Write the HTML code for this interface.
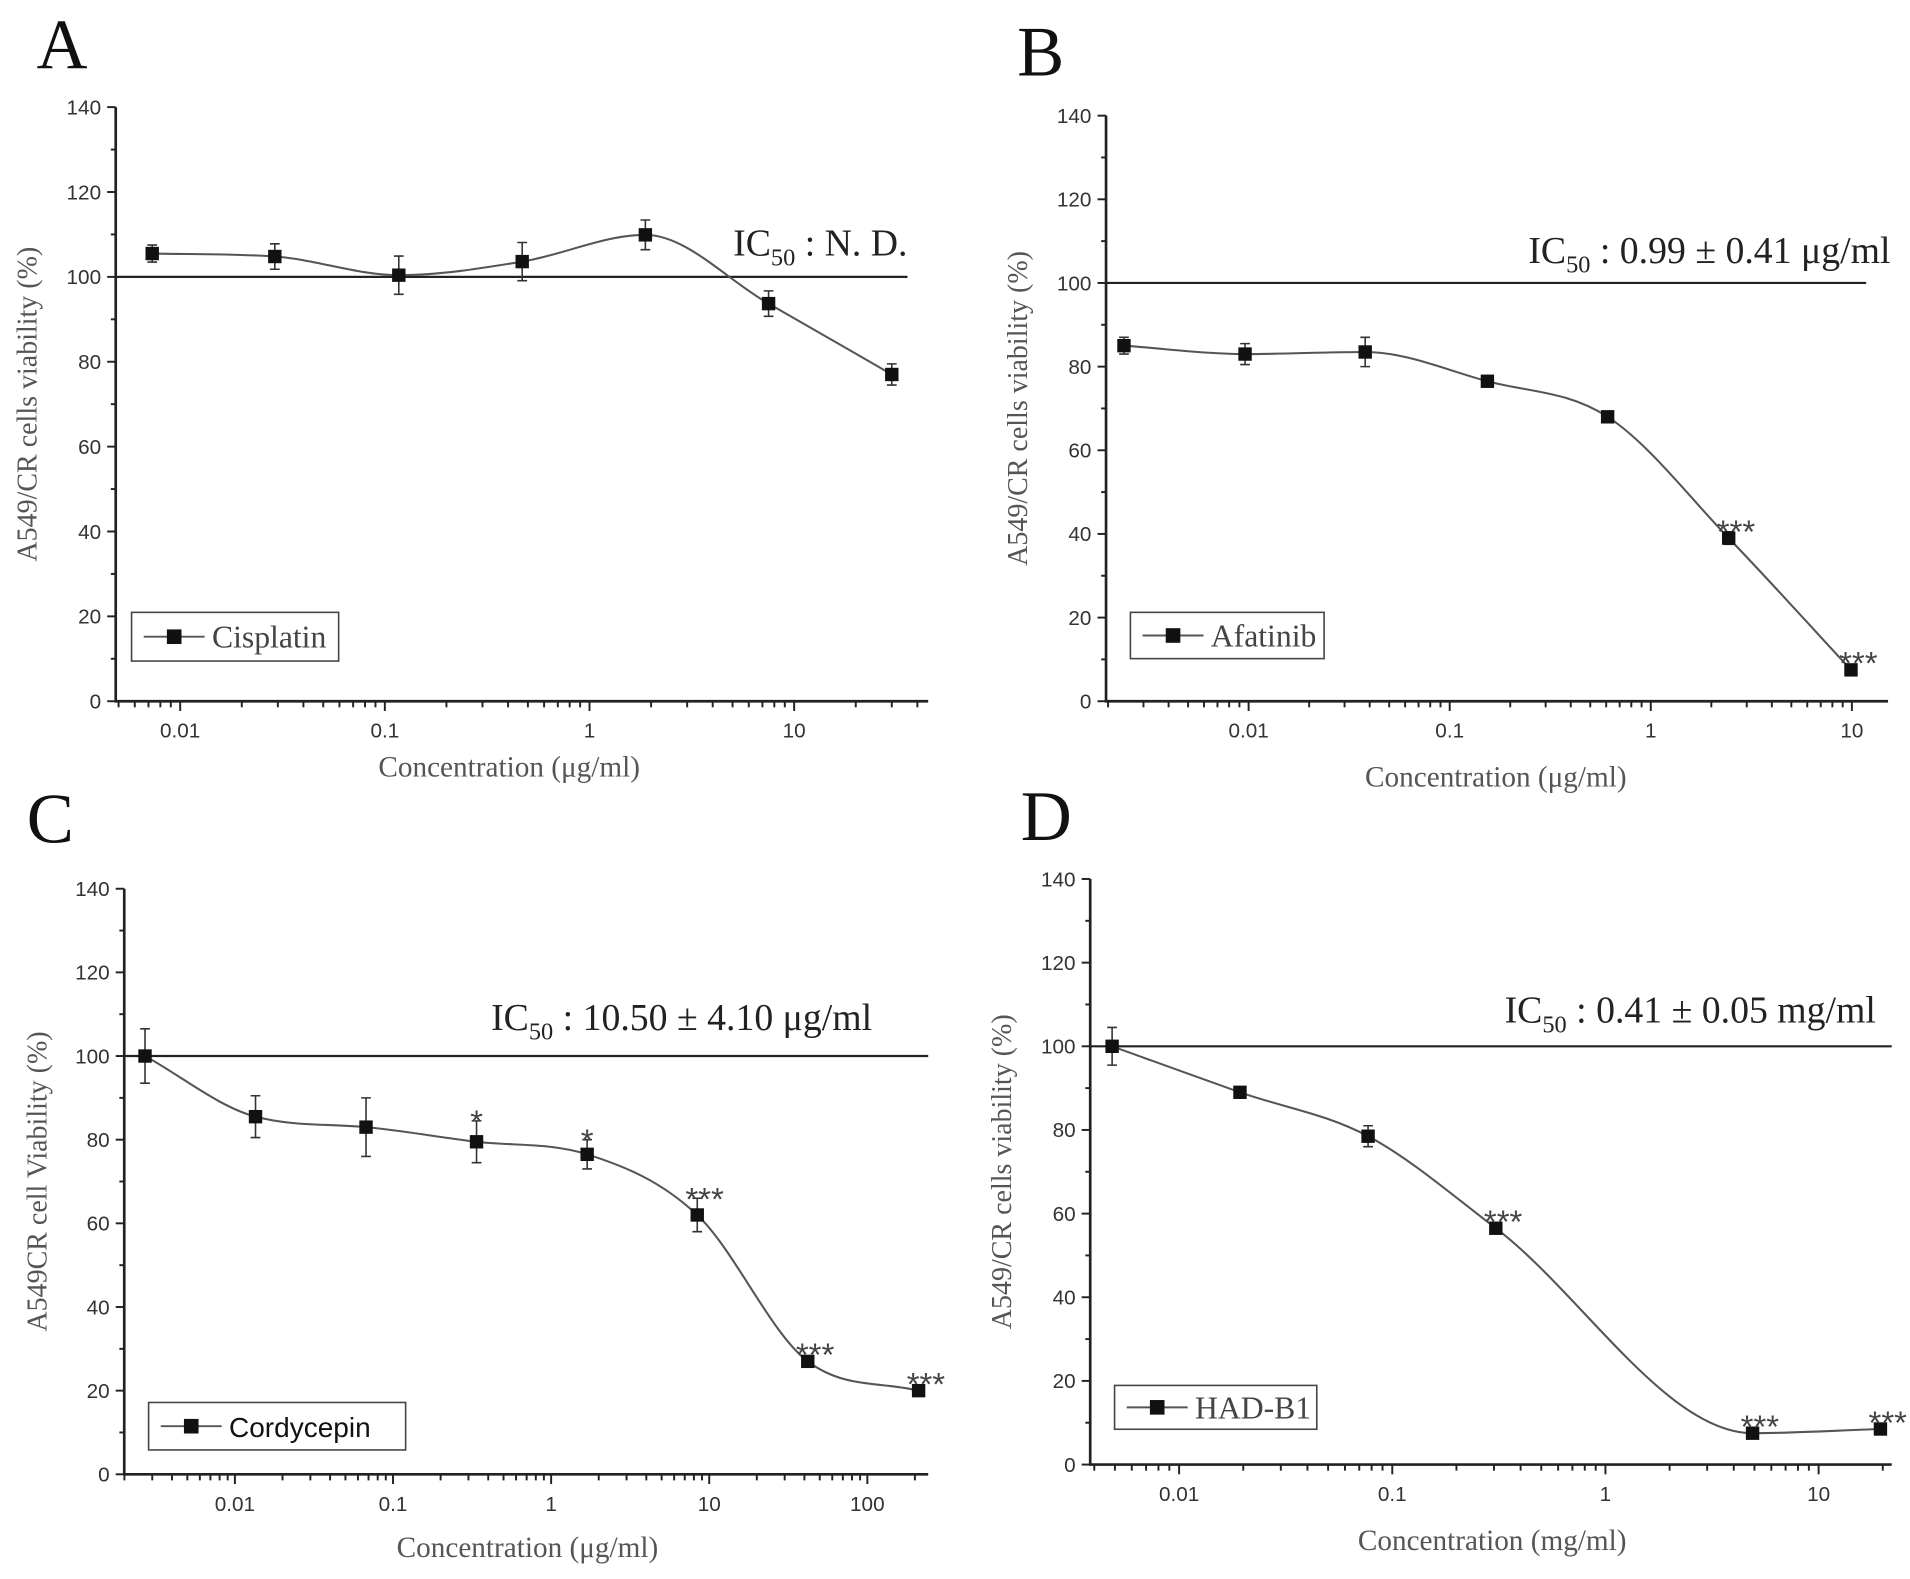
<!DOCTYPE html>
<html><head><meta charset="utf-8"><style>
html,body{margin:0;padding:0;background:#fff;}
svg{display:block;}
</style></head><body>
<svg id="fig" width="1910" height="1579" viewBox="0 0 1568 1297" preserveAspectRatio="none" xmlns="http://www.w3.org/2000/svg"></svg>
<script>
// Panel A – Cisplatin
const aConc = [0.0073, 0.029, 0.117, 0.469, 1.875, 7.5, 30];
const aVal = [105.5, 104.8, 100.4, 103.6, 109.9, 93.7, 77];
const aErr = [2, 3, 4.5, 4.5, 3.5, 3, 2.5];
const aStars = ["", "", "", "", "", "", ""];
// Panel B – Afatinib
const bConc = [0.0024, 0.0096, 0.038, 0.154, 0.61, 2.44, 9.9];
const bVal = [85, 83, 83.5, 76.5, 68, 39, 7.5];
const bErr = [2, 2.5, 3.5, 1, 1, 1.5, 1];
const bStars = ["", "", "", "", "", "***", "***"];
// Panel C – Cordycepin
const cConc = [0.0027, 0.0135, 0.0675, 0.3375, 1.69, 8.4, 42, 211];
const cVal = [100, 85.5, 83, 79.5, 76.5, 62, 27, 20];
const cErr = [6.5, 5, 7, 5, 3.5, 4, 1, 0.5];
const cStars = ["", "", "", "*", "*", "***", "***", "***"];
// Panel D – HAD-B1
const dConc = [0.00485, 0.0193, 0.077, 0.306, 4.9, 19.5];
const dVal = [100, 89, 78.5, 56.5, 7.5, 8.5];
const dErr = [4.5, 0.5, 2.5, 1, 0.5, 0.5];
const dStars = ["", "", "", "***", "***", "***"];
const yTicks = [0, 20, 40, 60, 80, 100, 120, 140];
const xTickLabels = ["0.01", "0.1", "1", "10", "100"];

const NS = "http://www.w3.org/2000/svg";
const svg = document.getElementById("fig");
function mk(tag, attrs, parent) {
  const e = document.createElementNS(NS, tag);
  for (const k in attrs) e.setAttribute(k, attrs[k]);
  (parent || svg).appendChild(e);
  return e;
}
function monotonePath(pts) {
  const n = pts.length, dx = [], s = [], m = [];
  for (let i = 0; i < n - 1; i++) { dx[i] = pts[i+1][0] - pts[i][0]; s[i] = (pts[i+1][1] - pts[i][1]) / dx[i]; }
  m[0] = s[0]; m[n-1] = s[n-2];
  for (let i = 1; i < n - 1; i++) m[i] = (s[i-1] * s[i] <= 0) ? 0 : (s[i-1] + s[i]) / 2;
  for (let i = 0; i < n - 1; i++) {
    if (s[i] === 0) { m[i] = 0; m[i+1] = 0; continue; }
    const a = m[i] / s[i], b = m[i+1] / s[i], h = a*a + b*b;
    if (h > 9) { const t = 3 / Math.sqrt(h); m[i] = t*a*s[i]; m[i+1] = t*b*s[i]; }
  }
  let d = `M${pts[0][0]},${pts[0][1]}`;
  for (let i = 0; i < n - 1; i++) {
    const h = dx[i] / 3;
    d += ` C${pts[i][0]+h},${pts[i][1]+m[i]*h} ${pts[i+1][0]-h},${pts[i+1][1]-m[i+1]*h} ${pts[i+1][0]},${pts[i+1][1]}`;
  }
  return d;
}

function panel(p) {
  const g = mk("g", {});
  
  
  const xs = v => p.x0 + (Math.log10(v) - p.lmin) / (p.lmax - p.lmin) * (p.x1 - p.x0);
  const ys = v => p.y0 - v / 140 * (p.y0 - p.y1);
  const L = mk("text", {x: p.lx, y: p.ly, "font-family": "Liberation Serif, serif", "font-size": 58, fill: "#111"}, g);
  L.textContent = p.id;
  
  
  const ax = mk("path", {d: `M${p.x0},${p.y1}V${p.y0}H${p.x1}`, stroke: "#222", "stroke-width": 2.2, fill: "none"}, g);
  
  
  for (let v = 0; v <= 140; v += 10) {
    const y = ys(v), major = v % 20 === 0;
    mk("line", {x1: p.x0 - (major ? 7 : 4), x2: p.x0, y1: y, y2: y, stroke: "#222", "stroke-width": 1.6}, g);
  }
  yTicks.forEach(v => {
    const t = mk("text", {x: p.x0 - 12, y: ys(v) + 6, "text-anchor": "end", "font-family": "Liberation Sans, sans-serif", "font-size": 17, fill: "#333"}, g);
    t.textContent = v;
    
    
  });
  for (let d = Math.floor(p.lmin); d <= Math.ceil(p.lmax); d++) {
    for (let m = 1; m <= 9; m++) {
      const l = d + Math.log10(m);
      if (l < p.lmin || l > p.lmax) continue;
      const x = xs(Math.pow(10, l));
      mk("line", {x1: x, x2: x, y1: p.y0, y2: p.y0 + (m === 1 ? 8 : 5), stroke: "#222", "stroke-width": 1.6}, g);
    }
  }
  xTickLabels.forEach(s => {
    const v = parseFloat(s);
    const l = Math.log10(v);
    if (l < p.lmin || l > p.lmax) return;
    const t = mk("text", {x: xs(v), y: p.y0 + 30, "text-anchor": "middle", "font-family": "Liberation Sans, sans-serif", "font-size": 17, fill: "#333"}, g);
    t.textContent = s;
    
    
  });
  const xt = mk("text", {x: p.xtx, y: p.xty, "text-anchor": "middle", "font-family": "Liberation Serif, serif", "font-size": 24, fill: "#555"}, g);
  xt.textContent = p.xtitle;
  
  
  const yc = (p.y0 + p.y1) / 2;
  const yt = mk("text", {x: p.ytx, y: yc, "text-anchor": "middle", transform: `rotate(-90 ${p.ytx} ${yc})`, "font-family": "Liberation Serif, serif", "font-size": 23, fill: "#555"}, g);
  yt.textContent = p.ytitle;
  
  
  const ref = mk("line", {x1: p.x0, x2: p.refEnd, y1: ys(100), y2: ys(100), stroke: "#222", "stroke-width": 1.8}, g);
  
  
  const ic = mk("text", {x: p.icx, y: p.icy, "text-anchor": "end", "font-family": "Liberation Serif, serif", "font-size": 31, fill: "#222"}, g);
  ic.innerHTML = `IC<tspan font-size="20" dy="8">50</tspan><tspan dy="-8"> ${p.ictext}</tspan>`;
  
  
  const pts = p.conc.map((c, i) => [xs(c), ys(p.val[i])]);
  const cv = mk("path", {d: monotonePath(pts), stroke: "#555", "stroke-width": 1.7, fill: "none"}, g);
  
  
  p.conc.forEach((c, i) => {
    const x = xs(c), y = ys(p.val[i]);
    const yt1 = ys(p.val[i] + p.err[i]), yb = ys(p.val[i] - p.err[i]);
    const eb = mk("path", {d: `M${x},${yt1}V${yb}M${x - 4},${yt1}H${x + 4}M${x - 4},${yb}H${x + 4}`, stroke: "#333", "stroke-width": 1.3, fill: "none"}, g);
    
    
    const pt = mk("rect", {x: x - 5.5, y: y - 5.5, width: 11, height: 11, fill: "#111"}, g);
    
    
    if (p.stars[i]) {
      const st = mk("text", {x: x + (p.stars[i].length > 1 ? 6 : 0), y: Math.min(yt1, y - 6) + 10, "text-anchor": "middle", "font-family": "Liberation Sans, sans-serif", "font-size": 27, fill: "#444"}, g);
      st.textContent = p.stars[i];
      
      
    }
  });
  const lg = mk("g", {}, g);
  
  
  mk("rect", {x: p.lgx, y: p.lgy, width: p.lgw, height: p.lgh, fill: "#fff", stroke: "#444", "stroke-width": 1.3}, lg);
  const cy = p.lgy + p.lgh / 2;
  mk("line", {x1: p.lgx + 10, x2: p.lgx + 60, y1: cy, y2: cy, stroke: "#555", "stroke-width": 1.6}, lg);
  mk("rect", {x: p.lgx + 29, y: cy - 6, width: 12, height: 12, fill: "#111"}, lg);
  const lt = mk("text", {x: p.lgx + 66, y: cy + 9, "font-family": p.lgSans ? "Liberation Sans, sans-serif" : "Liberation Serif, serif", "font-size": p.lgSans ? 23 : 26, fill: p.lgSans ? "#111" : "#444"}, lg);
  lt.textContent = p.name;
  
  
}

panel({id: "A", conc: aConc, val: aVal, err: aErr, stars: aStars, name: "Cisplatin",
  x0: 95, x1: 762, y0: 576, y1: 88, lmin: -2.315, lmax: 1.655, lx: 30, ly: 56,
  xtitle: "Concentration (μg/ml)", xtx: 418, xty: 638, ytitle: "A549/CR cells viability (%)", ytx: 30,
  refEnd: 745, icx: 745, icy: 210, ictext: ": N. D.", lgx: 108, lgy: 503, lgw: 170, lgh: 40});
panel({id: "B", conc: bConc, val: bVal, err: bErr, stars: bStars, name: "Afatinib",
  x0: 908, x1: 1550, y0: 576, y1: 95, lmin: -2.709, lmax: 1.18, lx: 835, ly: 62,
  xtitle: "Concentration (μg/ml)", xtx: 1228, xty: 646, ytitle: "A549/CR cells viability (%)", ytx: 843,
  refEnd: 1532, icx: 1552, icy: 216, ictext: ": 0.99 ± 0.41 μg/ml", lgx: 928, lgy: 503, lgw: 159, lgh: 38});
panel({id: "C", conc: cConc, val: cVal, err: cErr, stars: cStars, name: "Cordycepin", lgSans: true,
  x0: 102, x1: 762, y0: 1211, y1: 730, lmin: -2.7, lmax: 2.385, lx: 22, ly: 692,
  xtitle: "Concentration (μg/ml)", xtx: 433, xty: 1279, ytitle: "A549CR cell Viability (%)", ytx: 38,
  refEnd: 762, icx: 716, icy: 846, ictext: ": 10.50 ± 4.10 μg/ml", lgx: 122, lgy: 1152, lgw: 211, lgh: 39});
panel({id: "D", conc: dConc, val: dVal, err: dErr, stars: dStars, name: "HAD-B1",
  x0: 895, x1: 1553, y0: 1203, y1: 722, lmin: -2.417, lmax: 1.343, lx: 838, ly: 690,
  xtitle: "Concentration (mg/ml)", xtx: 1225, xty: 1273, ytitle: "A549/CR cells viability (%)", ytx: 830,
  refEnd: 1553, icx: 1540, icy: 840, ictext: ": 0.41 ± 0.05 mg/ml", lgx: 915, lgy: 1138, lgw: 166, lgh: 36});
</script>
</body></html>
